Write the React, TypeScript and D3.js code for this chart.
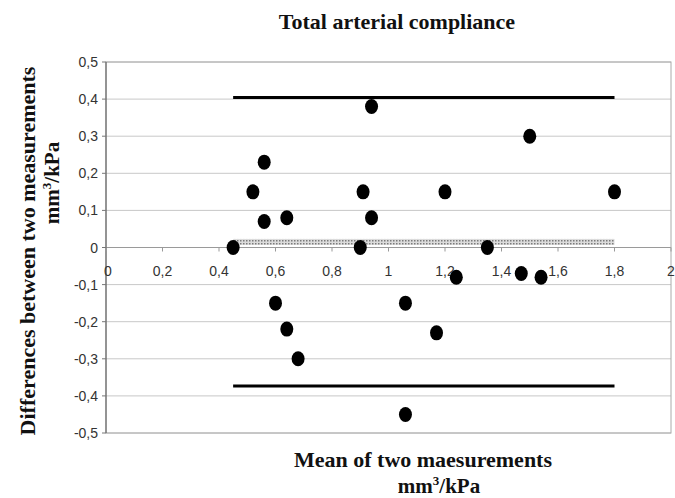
import React from 'react';
import * as d3 from 'd3';

// mean of the two measurements (x) and their difference (y)
const means = [0.45, 0.52, 0.56, 0.56, 0.6, 0.64, 0.64, 0.68, 0.9, 0.91, 0.94, 0.94,
  1.06, 1.06, 1.17, 1.2, 1.24, 1.35, 1.47, 1.5, 1.54, 1.8];
const diffs = [0.0, 0.15, 0.23, 0.07, -0.15, 0.08, -0.22, -0.3, 0.0, 0.15, 0.38, 0.08,
  -0.15, -0.45, -0.23, 0.15, -0.08, 0.0, -0.07, 0.3, -0.08, 0.15];

const xTicks = [0, 0.2, 0.4, 0.6, 0.8, 1, 1.2, 1.4, 1.6, 1.8, 2];
const yTicks = [0.5, 0.4, 0.3, 0.2, 0.1, 0, -0.1, -0.2, -0.3, -0.4, -0.5];

// limits of agreement and mean difference, drawn over the data range
const meanDiff = 0.015;
const upperLimit = 0.404;
const lowerLimit = -0.373;
const lineRange = [0.45, 1.8];

const W = 675;
const H = 498;
const left = 106, right = 671, top = 62, bottom = 433;

const fmt = (v: number) => String(v).replace('.', ',');

export default function App() {
  const x = d3.scaleLinear().domain([0, 2]).range([left, right]);
  const y = d3.scaleLinear().domain([-0.5, 0.5]).range([bottom, top]);
  const points = means.map((m, i) => ({ m, d: diffs[i] }));

  const sans = 'Liberation Sans, Arial, sans-serif';
  const serif = 'Liberation Serif, Times New Roman, serif';

  return (
    <svg width={W} height={H} style={{ position: 'absolute', left: 0, top: 0, background: '#fff' }}>
      <defs>
        <pattern id="stipple" width="3" height="3" patternUnits="userSpaceOnUse">
          <rect width="3" height="3" fill="#dcdcdc" />
          <rect width="1.5" height="1.5" fill="#7a7a7a" />
        </pattern>
      </defs>

      <text x={397} y={29} textAnchor="middle" fontFamily={serif} fontWeight="bold" fontSize={22} fill="#111">
        Total arterial compliance
      </text>

      {/* grid */}
      {yTicks.map(t => (
        <line key={'g' + t} x1={left} x2={right} y1={y(t)} y2={y(t)}
          stroke={t === 0 ? '#9a9a9a' : '#c8c8c8'} strokeWidth={1} />
      ))}
      <rect x={left} y={top} width={right - left} height={bottom - top} fill="none" stroke="#aaa" strokeWidth={1} />
      <line x1={left} x2={left} y1={top} y2={bottom} stroke="#555" strokeWidth={1} />

      {/* x ticks along zero line */}
      {xTicks.map(t => (
        <g key={'x' + t}>
          <line x1={x(t)} x2={x(t)} y1={y(0)} y2={y(0) + 4} stroke="#999" />
          <text x={x(t) + (t === 0 ? 2 : 0)} y={y(0) + 28} textAnchor="middle" fontFamily={sans} fontSize={14} fill="#333">
            {fmt(t)}
          </text>
        </g>
      ))}

      {/* y ticks */}
      {yTicks.map(t => (
        <g key={'y' + t}>
          <line x1={left - 4} x2={left} y1={y(t)} y2={y(t)} stroke="#777" />
          <text x={98} y={y(t) + 5} textAnchor="end" fontFamily={sans} fontSize={14} fill="#333">
            {fmt(t)}
          </text>
        </g>
      ))}

      {/* mean difference band */}
      <rect x={x(lineRange[0])} y={y(meanDiff) - 3} width={x(lineRange[1]) - x(lineRange[0])} height={6}
        fill="url(#stipple)" />

      {/* limits of agreement */}
      {[upperLimit, lowerLimit].map(v => (
        <line key={'l' + v} x1={x(lineRange[0])} x2={x(lineRange[1])} y1={y(v)} y2={y(v)}
          stroke="#000" strokeWidth={3} />
      ))}

      {points.map((p, i) => (
        <ellipse key={i} cx={x(p.m)} cy={y(p.d)} rx={6.5} ry={7.5} fill="#000" />
      ))}

      {/* axis titles */}
      <text transform="translate(35,251) rotate(-90)" textAnchor="middle" fontFamily={serif} fontWeight="bold" fontSize={22} fill="#111">
        Differences between two measurements
      </text>
      <text transform="translate(59,183) rotate(-90)" textAnchor="middle" fontFamily={serif} fontWeight="bold" fontSize={21} fill="#111">
        mm<tspan dy={-8} fontSize={13}>3</tspan><tspan dy={8}>/kPa</tspan>
      </text>

      <text x={423} y={467} textAnchor="middle" fontFamily={serif} fontWeight="bold" fontSize={22} fill="#111">
        Mean of two maesurements
      </text>
      <text x={439} y={493} textAnchor="middle" fontFamily={serif} fontWeight="bold" fontSize={21} fill="#111">
        mm<tspan dy={-8} fontSize={13}>3</tspan><tspan dy={8}>/kPa</tspan>
      </text>
    </svg>
  );
}
